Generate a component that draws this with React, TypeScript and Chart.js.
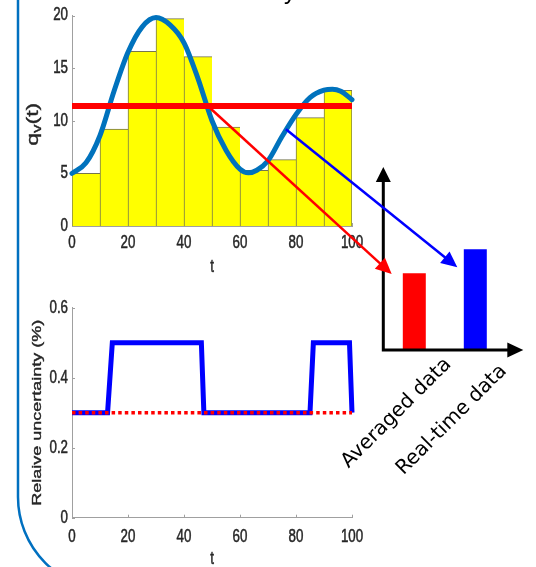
import React, { useEffect, useRef } from "react";
import { Chart, registerables } from "chart.js";

Chart.register(...registerables);

// ---------------- data ----------------
// top panel: bin-averaged flow (10-unit bins) and real-time flow curve
const binCenters = [5, 15, 25, 35, 45, 55, 65, 75, 85, 95];
const binFlow = [5.0, 9.2, 16.6, 19.7, 16.1, 9.4, 5.3, 6.3, 10.3, 12.9];

const curveT = [0, 5, 10, 15, 20, 25, 30, 35, 40, 45, 50, 55, 60, 63, 66, 70, 75, 80, 85, 90, 93, 96, 100];
const curveFlow = [5.0, 6.0, 8.6, 12.8, 16.5, 18.9, 19.8, 19.1, 17.4, 14.0, 10.0, 7.2, 5.4, 5.05, 5.3, 6.2, 8.5, 10.6, 12.2, 12.9, 13.0, 12.8, 12.0];

const meanT = [0, 100];
const meanFlow = [11.4, 11.4];

// bottom panel: relative uncertainty
const uncT = [0, 12.7, 14.4, 46.2, 47.1, 85, 86.2, 99.1, 100];
const uncRealTime = [0.3, 0.3, 0.5, 0.5, 0.3, 0.3, 0.5, 0.5, 0.3];
const uncAvgT = [0, 100];
const uncAveraged = [0.3, 0.3];

// schematic bar chart
const schemeLabels = ["Averaged data", "Real-time data"];
const schemeValues = [0.42, 0.55];

// ticks
const topXTicks = [0, 20, 40, 60, 80, 100];
const topXTickLabels = ["0", "20", "40", "60", "80", "100"];
const topYTicks = [0, 5, 10, 15, 20];
const topYTickLabels = ["0", "5", "10", "15", "20"];
const botXTicks = [0, 20, 40, 60, 80, 100];
const botXTickLabels = ["0", "20", "40", "60", "80", "100"];
const botYTicks = [0, 0.2, 0.4, 0.6];
const botYTickLabels = ["0", "0.2", "0.4", "0.6"];

// arrow start points (data coords of top panel)
const redArrowFrom = [48.5, 11.4];
const blueArrowFrom = [76.4, 9.2];

// ---------------- styles ----------------
const AXIS_COLOR = "#a0a0a0";
const TEXT_COLOR = "#262626";
const MFONT = '"Liberation Sans", Arial, Helvetica, sans-serif';
const SQUISH = 0.74;

function drawSquished(
  ctx: CanvasRenderingContext2D,
  text: string,
  x: number,
  y: number,
  size: number,
  align: CanvasTextAlign,
  baseline: CanvasTextBaseline,
  rot = 0
) {
  ctx.save();
  ctx.translate(x, y);
  ctx.scale(SQUISH, 1);
  if (rot) ctx.rotate(rot);
  ctx.font = `${size}px ${MFONT}`;
  ctx.fillStyle = TEXT_COLOR;
  ctx.strokeStyle = TEXT_COLOR;
  ctx.lineWidth = 0.5;
  ctx.textAlign = align;
  ctx.textBaseline = baseline;
  ctx.fillText(text, 0, 0);
  ctx.strokeText(text, 0, 0);
  ctx.restore();
}

function drawArrow(
  ctx: CanvasRenderingContext2D,
  x0: number,
  y0: number,
  x1: number,
  y1: number,
  color: string,
  lw: number,
  headLen: number,
  headHalf: number
) {
  const a = Math.atan2(y1 - y0, x1 - x0);
  const c = Math.cos(a);
  const s = Math.sin(a);
  const bx = x1 - headLen * c;
  const by = y1 - headLen * s;
  ctx.save();
  ctx.strokeStyle = color;
  ctx.lineWidth = lw;
  ctx.lineCap = "butt";
  ctx.beginPath();
  ctx.moveTo(x0, y0);
  ctx.lineTo(bx + 2 * c, by + 2 * s);
  ctx.stroke();
  ctx.fillStyle = color;
  ctx.beginPath();
  ctx.moveTo(x1, y1);
  ctx.lineTo(bx - headHalf * s, by + headHalf * c);
  ctx.lineTo(bx + headHalf * s, by - headHalf * c);
  ctx.closePath();
  ctx.fill();
  ctx.restore();
}

function axesDecor(
  id: string,
  xTicks: number[],
  xLabels: string[],
  yTicks: number[],
  yLabels: string[],
  xLabelGap: number,
  xTitleGap: number,
  drawYTitle: (ctx: CanvasRenderingContext2D, ca: any) => void
) {
  return {
    id,
    beforeDatasetsDraw(chart: any) {
      const { ctx, chartArea: ca, scales } = chart;
      const x = scales.x;
      const y = scales.y;
      ctx.save();
      ctx.strokeStyle = AXIS_COLOR;
      ctx.lineWidth = 1;
      ctx.beginPath();
      xTicks.forEach((v) => {
        const px = Math.round(x.getPixelForValue(v)) + 0.5;
        ctx.moveTo(px, ca.bottom);
        ctx.lineTo(px, ca.bottom - 3);
      });
      yTicks.forEach((v) => {
        const py = Math.round(y.getPixelForValue(v)) + 0.5;
        ctx.moveTo(ca.left, py);
        ctx.lineTo(ca.left + 3, py);
      });
      ctx.stroke();
      ctx.restore();
    },
    afterDraw(chart: any) {
      const { ctx, chartArea: ca, scales } = chart;
      const x = scales.x;
      const y = scales.y;
      xTicks.forEach((v, i) =>
        drawSquished(ctx, xLabels[i], x.getPixelForValue(v), ca.bottom + xLabelGap, 18, "center", "middle")
      );
      yTicks.forEach((v, i) =>
        drawSquished(ctx, yLabels[i], ca.left - 4, y.getPixelForValue(v), 18, "right", "middle")
      );
      drawSquished(ctx, "t", (ca.left + ca.right) / 2, ca.bottom + xTitleGap, 18, "center", "middle");
      drawYTitle(ctx, ca);
    },
  };
}

const topDecor = axesDecor(
  "topDecor",
  topXTicks,
  topXTickLabels,
  topYTicks,
  topYTickLabels,
  17.5,
  41,
  (ctx, ca) => {
    ctx.save();
    ctx.translate(33, (ca.top + ca.bottom) / 2 + 3.5);
    ctx.scale(SQUISH, 1);
    ctx.rotate(-Math.PI / 2);
    ctx.fillStyle = TEXT_COLOR;
    ctx.strokeStyle = TEXT_COLOR;
    ctx.lineWidth = 0.5;
    ctx.textBaseline = "middle";
    ctx.textAlign = "left";
    const big = `23px ${MFONT}`;
    const small = `17px ${MFONT}`;
    ctx.font = big;
    const wq = ctx.measureText("q").width;
    const wp = ctx.measureText("(t)").width;
    ctx.font = small;
    const wv = ctx.measureText("v").width;
    const x0 = -(wq + wv + wp) / 2;
    ctx.font = big;
    ctx.fillText("q", x0, 0);
    ctx.strokeText("q", x0, 0);
    ctx.font = small;
    ctx.fillText("v", x0 + wq, 6);
    ctx.strokeText("v", x0 + wq, 6);
    ctx.font = big;
    ctx.fillText("(t)", x0 + wq + wv, 0);
    ctx.strokeText("(t)", x0 + wq + wv, 0);
    ctx.restore();
  }
);

const arrowsDecor = {
  id: "arrowsDecor",
  afterDraw(chart: any) {
    const { ctx, scales } = chart;
    const x = scales.x;
    const y = scales.y;
    drawArrow(
      ctx,
      x.getPixelForValue(redArrowFrom[0]),
      y.getPixelForValue(redArrowFrom[1]),
      391.7,
      274,
      "#ff0000",
      2.5,
      16,
      7.5
    );
    drawArrow(
      ctx,
      x.getPixelForValue(blueArrowFrom[0]),
      y.getPixelForValue(blueArrowFrom[1]),
      457.3,
      267.3,
      "#0000ff",
      2.5,
      16,
      7.5
    );
  },
};

const botDecor = axesDecor(
  "botDecor",
  botXTicks,
  botXTickLabels,
  botYTicks,
  botYTickLabels,
  19,
  41,
  (ctx, ca) => {
    drawSquished(ctx, "Relaive uncertainty (%)", 37, (ca.top + ca.bottom) / 2, 18, "center", "middle", -Math.PI / 2);
  }
);

const schemeDecor = {
  id: "schemeDecor",
  beforeDraw(chart: any) {
    const { ctx } = chart;
    // rounded blue frame on the left
    ctx.save();
    ctx.strokeStyle = "#0070c0";
    ctx.lineWidth = 2.5;
    ctx.beginPath();
    ctx.moveTo(18, -5);
    ctx.lineTo(18, 497);
    ctx.arc(111, 497, 93, Math.PI, Math.PI / 2, true);
    ctx.stroke();
    // cut-off title glyph at top
    ctx.fillStyle = "#000";
    ctx.font = `24px ${MFONT}`;
    ctx.textAlign = "left";
    ctx.textBaseline = "alphabetic";
    ctx.fillText("y", 284, -1.5);
    ctx.restore();
  },
  afterDraw(chart: any) {
    const { ctx, chartArea: ca, scales } = chart;
    const x = scales.x;
    ctx.save();
    ctx.strokeStyle = "#000";
    ctx.fillStyle = "#000";
    ctx.lineWidth = 3;
    const L = ca.left - 0.5;
    const B = ca.bottom;
    const tipY = ca.top;
    const tipX = ca.right + 17.5;
    ctx.beginPath();
    ctx.moveTo(L, B + 1.5);
    ctx.lineTo(L, tipY + 12);
    ctx.moveTo(L - 1.5, B);
    ctx.lineTo(tipX - 12, B);
    ctx.stroke();
    ctx.beginPath();
    ctx.moveTo(L, tipY);
    ctx.lineTo(L - 7.5, tipY + 15);
    ctx.lineTo(L + 7.5, tipY + 15);
    ctx.closePath();
    ctx.fill();
    ctx.beginPath();
    ctx.moveTo(tipX, B);
    ctx.lineTo(tipX - 16, B - 7.5);
    ctx.lineTo(tipX - 16, B + 7.5);
    ctx.closePath();
    ctx.fill();
    // rotated category labels
    const dx = [-17.8, -23.6];
    const dy = [63, 70];
    ctx.font = '20px "DejaVu Sans", sans-serif';
    ctx.textAlign = "center";
    ctx.textBaseline = "middle";
    schemeLabels.forEach((lab, i) => {
      ctx.save();
      ctx.translate(x.getPixelForValue(i) + dx[i], B + dy[i]);
      ctx.rotate(-Math.PI / 4);
      ctx.fillText(lab, 0, 0);
      ctx.restore();
    });
    ctx.restore();
  },
};

const commonOpts = {
  responsive: false,
  animation: false as const,
  devicePixelRatio: 1,
  events: [] as any[],
  plugins: { legend: { display: false }, tooltip: { enabled: false } },
};

function linAxis(min: number, max: number, step: number, fit: (s: any) => void) {
  return {
    type: "linear" as const,
    min,
    max,
    offset: false,
    grid: { display: false, offset: false },
    border: { display: true, color: AXIS_COLOR, width: 1 },
    ticks: { display: false, stepSize: step },
    afterFit: fit,
  };
}

export default function App() {
  const sRef = useRef<HTMLCanvasElement>(null);
  const tRef = useRef<HTMLCanvasElement>(null);
  const bRef = useRef<HTMLCanvasElement>(null);

  useEffect(() => {
    const scheme = new Chart(sRef.current!, {
      type: "bar",
      data: {
        labels: schemeLabels,
        datasets: [
          {
            data: schemeValues,
            backgroundColor: ["#ff0000", "#0000ff"],
            borderWidth: 0,
            barPercentage: 0.377,
            categoryPercentage: 1,
          },
        ],
      },
      options: {
        ...commonOpts,
        layout: { padding: { left: 383.8, right: 30.2, top: 167, bottom: 217 } },
        scales: {
          x: { display: false },
          y: { display: false, min: 0, max: 1 },
        },
      } as any,
      plugins: [schemeDecor],
    });

    const top = new Chart(tRef.current!, {
      type: "line",
      data: {
        datasets: [
          {
            type: "line",
            data: meanT.map((t, i) => ({ x: t, y: meanFlow[i] })),
            borderColor: "#ff0000",
            borderWidth: 6,
            pointRadius: 0,
            borderCapStyle: "butt",
            order: 0,
            clip: false,
          },
          {
            type: "line",
            data: curveT.map((t, i) => ({ x: t, y: curveFlow[i] })),
            borderColor: "#0072bd",
            borderWidth: 5,
            pointRadius: 0,
            cubicInterpolationMode: "monotone",
            borderCapStyle: "round",
            order: 1,
            clip: false,
          },
          {
            type: "bar",
            data: binCenters.map((t, i) => ({ x: t, y: binFlow[i] })),
            backgroundColor: "#ffff00",
            borderColor: "#75754f",
            borderWidth: (c: any) =>
              c.dataIndex === binCenters.length - 1
                ? { top: 1, left: 1, right: 1, bottom: 0 }
                : { top: 1, left: 1, right: 0, bottom: 0 },
            borderSkipped: false,
            barPercentage: 1,
            categoryPercentage: 1,
            order: 2,
          },
        ],
      } as any,
      options: {
        ...commonOpts,
        layout: { padding: { left: 0, right: 184, top: 15.5, bottom: 0 } },
        scales: {
          x: linAxis(0, 100, 20, (s) => {
            s.height = 64;
          }),
          y: linAxis(0, 20, 5, (s) => {
            s.width = 72;
          }),
        },
      } as any,
      plugins: [topDecor, arrowsDecor],
    });

    const bot = new Chart(bRef.current!, {
      type: "line",
      data: {
        datasets: [
          {
            data: uncAvgT.map((t, i) => ({ x: t, y: uncAveraged[i] })),
            borderColor: "#ff0000",
            borderWidth: 3.5,
            borderDash: [3.5, 3.1],
            pointRadius: 0,
            order: 0,
            clip: false,
          },
          {
            data: uncT.map((t, i) => ({ x: t, y: uncRealTime[i] })),
            borderColor: "#0000ff",
            borderWidth: 5,
            borderJoinStyle: "miter",
            pointRadius: 0,
            tension: 0,
            order: 1,
            clip: false,
          },
        ],
      } as any,
      options: {
        ...commonOpts,
        layout: { padding: { left: 0, right: 28, top: 17.7, bottom: 0 } },
        scales: {
          x: linAxis(0, 100, 20, (s) => {
            s.height = 49.3;
          }),
          y: linAxis(0, 0.6, 0.2, (s) => {
            s.width = 72;
          }),
        },
      } as any,
      plugins: [botDecor],
    });

    return () => {
      scheme.destroy();
      top.destroy();
      bot.destroy();
    };
  }, []);

  return (
    <div style={{ position: "absolute", left: 0, top: 0, width: 536, height: 567, background: "#fff", overflow: "hidden" }}>
      <canvas ref={sRef} width={536} height={567} style={{ position: "absolute", left: 0, top: 0 }} />
      <canvas ref={bRef} width={380} height={277} style={{ position: "absolute", left: 0, top: 290 }} />
      <canvas ref={tRef} width={536} height={290} style={{ position: "absolute", left: 0, top: 0 }} />
    </div>
  );
}
